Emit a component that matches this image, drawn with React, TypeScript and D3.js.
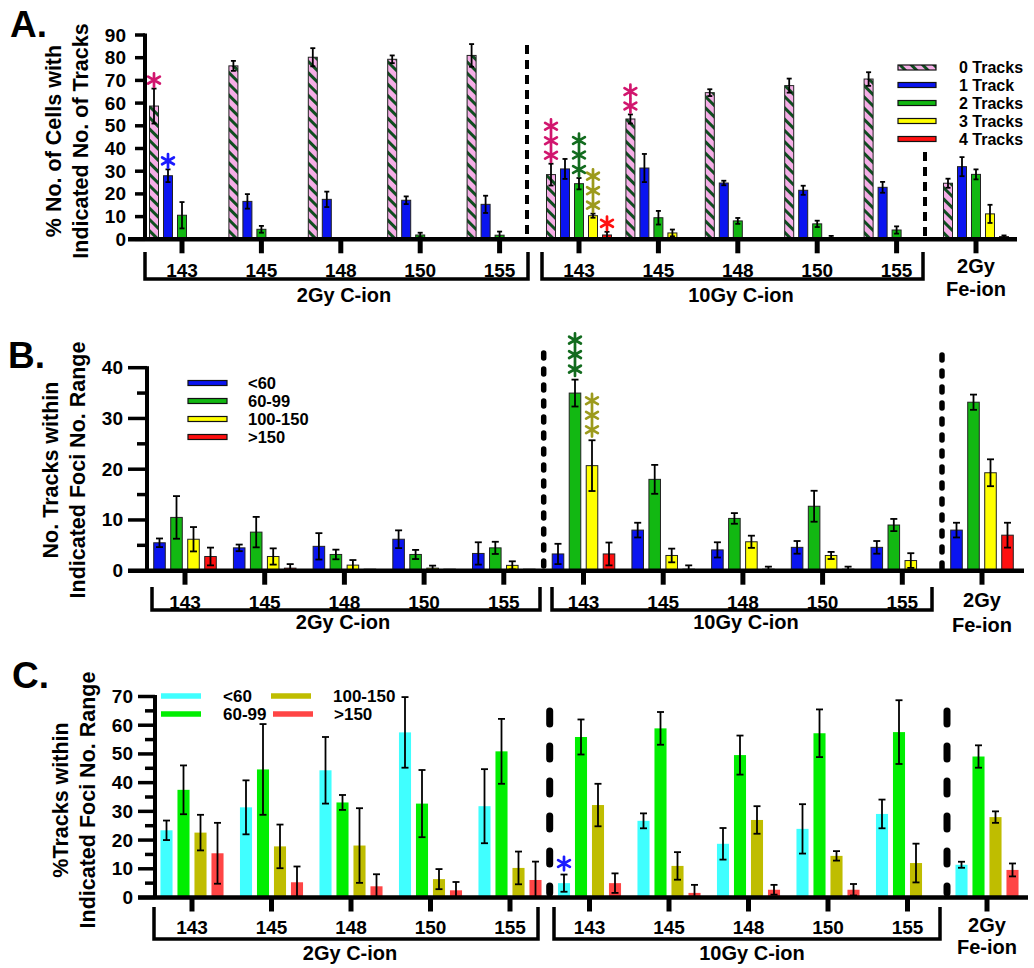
import React from "react";
import * as d3 from "d3";

// ---- shared categories ----
const groupLabels = ["143", "145", "148", "150", "155", "143", "145", "148", "150", "155", ""];
const doseLabels = ["2Gy C-ion", "10Gy C-ion"];
const feLabels = ["2Gy", "Fe-ion"];

// ---- panel A: % cells with N tracks ----
const trackSeries = ["0 Tracks", "1 Track", "2 Tracks", "3 Tracks", "4 Tracks"];
const tracks0 = [58.7, 76.4, 80.2, 79.3, 81, 28.5, 53, 64.6, 67.7, 70.6, 24.7];
const tracks0Err = [7.7, 2.2, 4, 1.7, 5, 4.8, 2, 1.5, 3.1, 3, 2];
const tracks1 = [28, 16.7, 17.6, 17.2, 15.4, 31, 31.4, 24.8, 21.6, 22.9, 32];
const tracks1Err = [2.8, 3.2, 3.4, 1.7, 3.8, 4.4, 6.2, 1, 2, 2.4, 4.2];
const tracks2 = [10.6, 4.4, 0.5, 1.9, 1.8, 24.5, 9.5, 8.1, 6.8, 4.1, 28.6];
const tracks2Err = [5.8, 1.5, 0, 1, 1.6, 2.5, 3, 1.3, 1.4, 1.6, 2.2];
const tracks3 = [0.4, 0.4, 0, 0, 0, 10.4, 2.8, 0, 0.3, 0, 11.2];
const tracks3Err = [0, 0, 0, 0, 0, 0.9, 1.5, 0, 1.2, 0, 4];
const tracks4 = [0, 0, 0, 0, 0, 1.9, 0, 0, 0, 0, 1.2];
const tracks4Err = [0, 0, 0, 0, 0, 1.4, 0, 0, 0, 0, 0.5];

// ---- panels B and C: foci ranges ----
const fociSeries = ["<60", "60-99", "100-150", ">150"];

const bLow = [5.5, 4.5, 4.8, 6.2, 3.4, 3.3, 8, 4.1, 4.6, 4.6, 8];
const bLowErr = [0.85, 0.65, 2.6, 1.75, 2.2, 2, 1.45, 1.5, 1.25, 1.25, 1.45];
const bMid = [10.5, 7.6, 3.2, 3.2, 4.5, 35, 18, 10.3, 12.7, 9, 33.2];
const bMidErr = [4.2, 3, 0.95, 0.9, 1.2, 2.65, 2.85, 1.05, 3.05, 1.2, 1.5];
const bHigh = [6.2, 2.8, 1.1, 0.5, 1.05, 20.7, 3, 5.7, 3, 2, 19.3];
const bHighErr = [2.4, 1.6, 1, 0.5, 0.8, 5, 1.35, 1.2, 0.7, 1.45, 2.65];
const bTop = [2.8, 0.5, 0.3, 0.3, 0.3, 3.3, 0.3, 0.3, 0.3, 0, 7];
const bTopErr = [1.75, 0.8, 0, 0, 0, 2.25, 0.75, 0.5, 0.5, 0, 2.45];

const cLow = [23.4, 31.4, 44.3, 57.5, 31.8, 5, 26.7, 18.7, 23.9, 29.1, 11.4];
const cLowErr = [3.4, 9.4, 11.6, 12.3, 12.9, 3, 2.6, 5.5, 8.6, 5, 1.05];
const cMid = [37.5, 44.6, 33.1, 32.7, 50.9, 55.9, 58.9, 49.6, 57.2, 57.6, 49.1];
const cMidErr = [8.5, 15.8, 2.6, 11.7, 11.3, 6.1, 5.7, 6.8, 8.3, 11.1, 3.9];
const cHigh = [22.6, 17.8, 18.1, 6.4, 10.3, 32.2, 11, 27, 14.5, 12, 28];
const cHighErr = [6.2, 7.6, 13, 3.5, 5.7, 7.4, 4.8, 4.8, 1.65, 6.75, 2];
const cTop = [15.4, 5.3, 3.9, 2.5, 6.1, 5, 1.6, 2.7, 2.7, 0, 9.6];
const cTopErr = [10.6, 5.5, 4.2, 2.9, 6.4, 3.4, 2.8, 1.7, 2, 0, 2.25];

// significance marks: group, series, count, colour
const starsA = [
  [0, 0, 1, "#d1166e"], [0, 1, 1, "#1a1aff"],
  [5, 0, 3, "#d1166e"], [5, 2, 3, "#126b1e"], [5, 3, 3, "#9c9a1c"], [5, 4, 1, "#ff1010"],
  [6, 0, 2, "#d1166e"],
];
const starsB = [[5, 1, 3, "#126b1e"], [5, 2, 3, "#9c9a1c"]];
const starsC = [[5, 0, 1, "#1a1aff"]];

const FONT = "'Liberation Sans', Arial, Helvetica, sans-serif";

function Star({ x, y, color }) {
  const r = 6.8;
  const c = r * Math.cos(Math.PI / 6), s = r * Math.sin(Math.PI / 6);
  return <path d={`M${x},${y - r}L${x},${y + r}M${x - c},${y - s}L${x + c},${y + s}M${x - c},${y + s}L${x + c},${y - s}`}
    stroke={color} strokeWidth={2.7} strokeLinecap="round" fill="none" />;
}

function Panel({ p }) {
  const y = d3.scaleLinear().domain([0, p.yMax]).range([p.y0, p.yTop]);
  const gx = d3.scalePoint().domain(d3.range(groupLabels.length)).range([p.xFirst, p.xLast]);
  const bx = d3.scaleBand().domain(d3.range(p.series.length)).range(p.inner)
    .paddingInner(p.padIn).paddingOuter(p.padIn / 2);
  const bw = bx.bandwidth();
  const majors = d3.range(0, p.yMax + 0.001, p.yStep);
  const minors = p.minor ? d3.range(p.yStep / 2, p.yMax, p.yStep) : [];
  const barX = (g, s) => gx(g) + bx(s);

  return (
    <g fontFamily={FONT} fontWeight="bold">
      <text x={p.letterX} y={p.letterY} fontSize={37}>{p.letter}</text>
      {p.title.map((t, i) => (
        <text key={i} transform={`translate(${p.titleX[i]},${p.titleY}) rotate(-90)`} textAnchor="middle"
          dominantBaseline="central" fontSize={21.5}>{t}</text>
      ))}

      {/* bars */}
      {p.values.map((vals, s) => vals.map((v, g) => v > 0 && (
        <rect key={`b${s}-${g}`} x={barX(g, s)} y={y(v)} width={bw} height={y(0) - y(v)}
          fill={p.fills[s]} stroke={p.stroke || "none"} strokeWidth={1} />
      )))}
      {/* error bars */}
      {p.values.map((vals, s) => vals.map((v, g) => {
        const e = p.errs[s][g];
        if (!(e > 0)) return null;
        const cx = barX(g, s) + bw / 2;
        const lo = y(Math.max(0, v - e)), hi = y(v + e);
        return (
          <g key={`e${s}-${g}`} stroke="#000" strokeWidth={1.8}>
            <line x1={cx} x2={cx} y1={lo} y2={hi} />
            <line x1={cx - p.capW / 2} x2={cx + p.capW / 2} y1={hi} y2={hi} />
            <line x1={cx - p.capW / 2} x2={cx + p.capW / 2} y1={lo} y2={lo} />
          </g>
        );
      }))}
      {/* significance */}
      {p.stars.map(([g, s, n, col], k) => {
        const v = p.values[s][g] + p.errs[s][g];
        const cx = barX(g, s) + bw / 2;
        return d3.range(n).map(i => <Star key={`s${k}-${i}`} x={cx} y={y(v) - p.starGap - i * 14.5} color={col} />);
      })}

      {/* dashed separators */}
      {p.dashed.map((d, i) => (
        <line key={`d${i}`} x1={d.x} x2={d.x} y1={d.y1} y2={d.y2} stroke="#000" strokeWidth={d.w}
          strokeDasharray={d.dash} strokeLinecap={d.cap} />
      ))}

      {/* y axis */}
      <line x1={p.axisX} x2={p.axisX} y1={y(p.yMax) - 1.5} y2={p.y0} stroke="#000" strokeWidth={4} />
      {majors.map(t => (
        <g key={`yt${t}`}>
          <line x1={p.axisX - p.tickLen} x2={p.axisX} y1={y(t)} y2={y(t)} stroke="#000" strokeWidth={3.5} />
          <text x={p.labelX} y={y(t)} textAnchor="end" dominantBaseline="central" fontSize={19}>{t}</text>
        </g>
      ))}
      {minors.map(t => (
        <line key={`ym${t}`} x1={p.axisX - p.minorLen} x2={p.axisX} y1={y(t)} y2={y(t)} stroke="#000" strokeWidth={3.5} />
      ))}

      {/* x axis */}
      <line x1={p.baseX0} x2={p.baseX1} y1={p.y0} y2={p.y0} stroke="#000" strokeWidth={4.5} />
      {groupLabels.map((lab, g) => (
        <g key={`xt${g}`}>
          <line x1={gx(g)} x2={gx(g)} y1={p.y0} y2={p.y0 + 14} stroke="#000" strokeWidth={5} />
          {lab && <text x={gx(g)} y={p.tickY} textAnchor="middle" fontSize={19}>{lab}</text>}
        </g>
      ))}
      {feLabels.map((t, i) => (
        <text key={`fe${i}`} x={gx(groupLabels.length - 1)} y={p.feY[i]} textAnchor="middle" fontSize={20}>{t}</text>
      ))}
      {p.brackets.map(([x1, x2], i) => (
        <g key={`br${i}`}>
          <path d={`M${x1},${p.brTop}V${p.brY}H${x2}V${p.brTop}`} fill="none" stroke="#000" strokeWidth={3.5} />
          <text x={p.doseX[i]} y={p.doseY} textAnchor="middle" fontSize={20}>{doseLabels[i]}</text>
        </g>
      ))}

      {/* legend */}
      {p.legend.items.map((it, i) => (
        <g key={`lg${i}`}>
          <rect x={it.sx} y={it.y - p.legend.h / 2} width={p.legend.w} height={p.legend.h}
            fill={p.fills[i]} stroke={p.stroke ? "#111" : "none"} strokeWidth={1.2} />
          <text x={it.tx} y={it.y} dominantBaseline="central" fontSize={p.legend.fs}>{p.series[i]}</text>
        </g>
      ))}
    </g>
  );
}

export default function App() {
  const panelA = {
    letter: "A.", letterX: 10, letterY: 37,
    title: ["% No. of Cells with", "Indicated No. of Tracks"], titleX: [54, 81], titleY: 141,
    y0: 239.3, yTop: 35, yMax: 90, yStep: 10, minor: false,
    axisX: 145, tickLen: 10, minorLen: 0, labelX: 126,
    baseX0: 128, baseX1: 1017, xFirst: 182, xLast: 976,
    inner: [-35, 35], padIn: 0.357, capW: 5, stroke: "#222", starGap: 8.5,
    series: trackSeries,
    fills: ["url(#hatch)", "#0a14f0", "#12b812", "#ffff00", "#ff1010"],
    values: [tracks0, tracks1, tracks2, tracks3, tracks4],
    errs: [tracks0Err, tracks1Err, tracks2Err, tracks3Err, tracks4Err],
    stars: starsA,
    dashed: [
      { x: 527, y1: 45, y2: 239, w: 4, dash: "9,6", cap: "butt" },
      { x: 925, y1: 152, y2: 239, w: 4, dash: "9,6", cap: "butt" },
    ],
    tickY: 276.5, feY: [273, 296], brTop: 252, brY: 279,
    brackets: [[145, 528], [542, 923]], doseX: [344, 741], doseY: 301.5,
    legend: {
      w: 38, h: 5, fs: 16,
      items: [67.5, 85, 103, 121, 139].map(yy => ({ sx: 898, tx: 959, y: yy })),
    },
  };
  const panelB = {
    letter: "B.", letterX: 8, letterY: 368,
    title: ["No. Tracks within", "Indicated Foci No. Range"], titleX: [51, 78], titleY: 470,
    y0: 570.7, yTop: 367.7, yMax: 40, yStep: 10, minor: true,
    axisX: 147, tickLen: 19, minorLen: 10, labelX: 123,
    baseX0: 128, baseX1: 1024, xFirst: 185, xLast: 982,
    inner: [-34, 34], padIn: 0.32, capW: 7, stroke: "#222", starGap: 10.5,
    series: fociSeries,
    fills: ["#0a14f0", "#12b812", "#ffff00", "#ff1010"],
    values: [bLow, bMid, bHigh, bTop],
    errs: [bLowErr, bMidErr, bHighErr, bTopErr],
    stars: starsB,
    dashed: [
      { x: 543.7, y1: 353, y2: 568, w: 5.5, dash: "5,11", cap: "round" },
      { x: 942, y1: 355, y2: 568, w: 5.5, dash: "5,11", cap: "round" },
    ],
    tickY: 608.5, feY: [607, 632], brTop: 587, brY: 610,
    brackets: [[152, 540], [552, 932]], doseX: [343, 746], doseY: 629,
    legend: {
      w: 39, h: 5, fs: 16.5,
      items: [383, 401, 419, 437].map(yy => ({ sx: 188, tx: 248, y: yy })),
    },
  };
  const panelC = {
    letter: "C.", letterX: 12, letterY: 688,
    title: ["%Tracks within", "Indicated Foci No. Range"], titleX: [61, 88], titleY: 800,
    y0: 897.5, yTop: 696.5, yMax: 70, yStep: 10, minor: true,
    axisX: 155, tickLen: 17, minorLen: 10, labelX: 133,
    baseX0: 138, baseX1: 1028, xFirst: 192, xLast: 987,
    inner: [-34, 34], padIn: 0.29, capW: 7, stroke: null, starGap: 11,
    series: fociSeries,
    fills: ["#40ffff", "#00ee00", "#bfbd00", "#ff4545"],
    values: [cLow, cMid, cHigh, cTop],
    errs: [cLowErr, cMidErr, cHighErr, cTopErr],
    stars: starsC,
    dashed: [
      { x: 549.7, y1: 711, y2: 893, w: 7, dash: "13,22", cap: "round" },
      { x: 947, y1: 711, y2: 893, w: 7, dash: "13,22", cap: "round" },
    ],
    tickY: 934, feY: [932, 954], brTop: 907, brY: 939,
    brackets: [[154, 538], [554, 940]], doseX: [350, 752], doseY: 960,
    legend: {
      w: 40, h: 5.5, fs: 17,
      items: [
        { sx: 161, tx: 223, y: 696 }, { sx: 161, tx: 223, y: 714 },
        { sx: 271, tx: 333, y: 696 }, { sx: 273, tx: 334, y: 714 },
      ],
    },
  };

  return (
    <svg width={1034} height={968} style={{ position: "absolute", left: 0, top: 0, background: "#fff" }}>
      <defs>
        <pattern id="hatch" patternUnits="userSpaceOnUse" width={8} height={8} patternTransform="rotate(45)">
          <rect width={8} height={8} fill="#f5aee6" />
          <rect width={8} height={3} fill="#0f4d1f" />
        </pattern>
      </defs>
      <rect width={1034} height={968} fill="#fff" />
      <Panel p={panelA} />
      <Panel p={panelB} />
      <Panel p={panelC} />
    </svg>
  );
}
